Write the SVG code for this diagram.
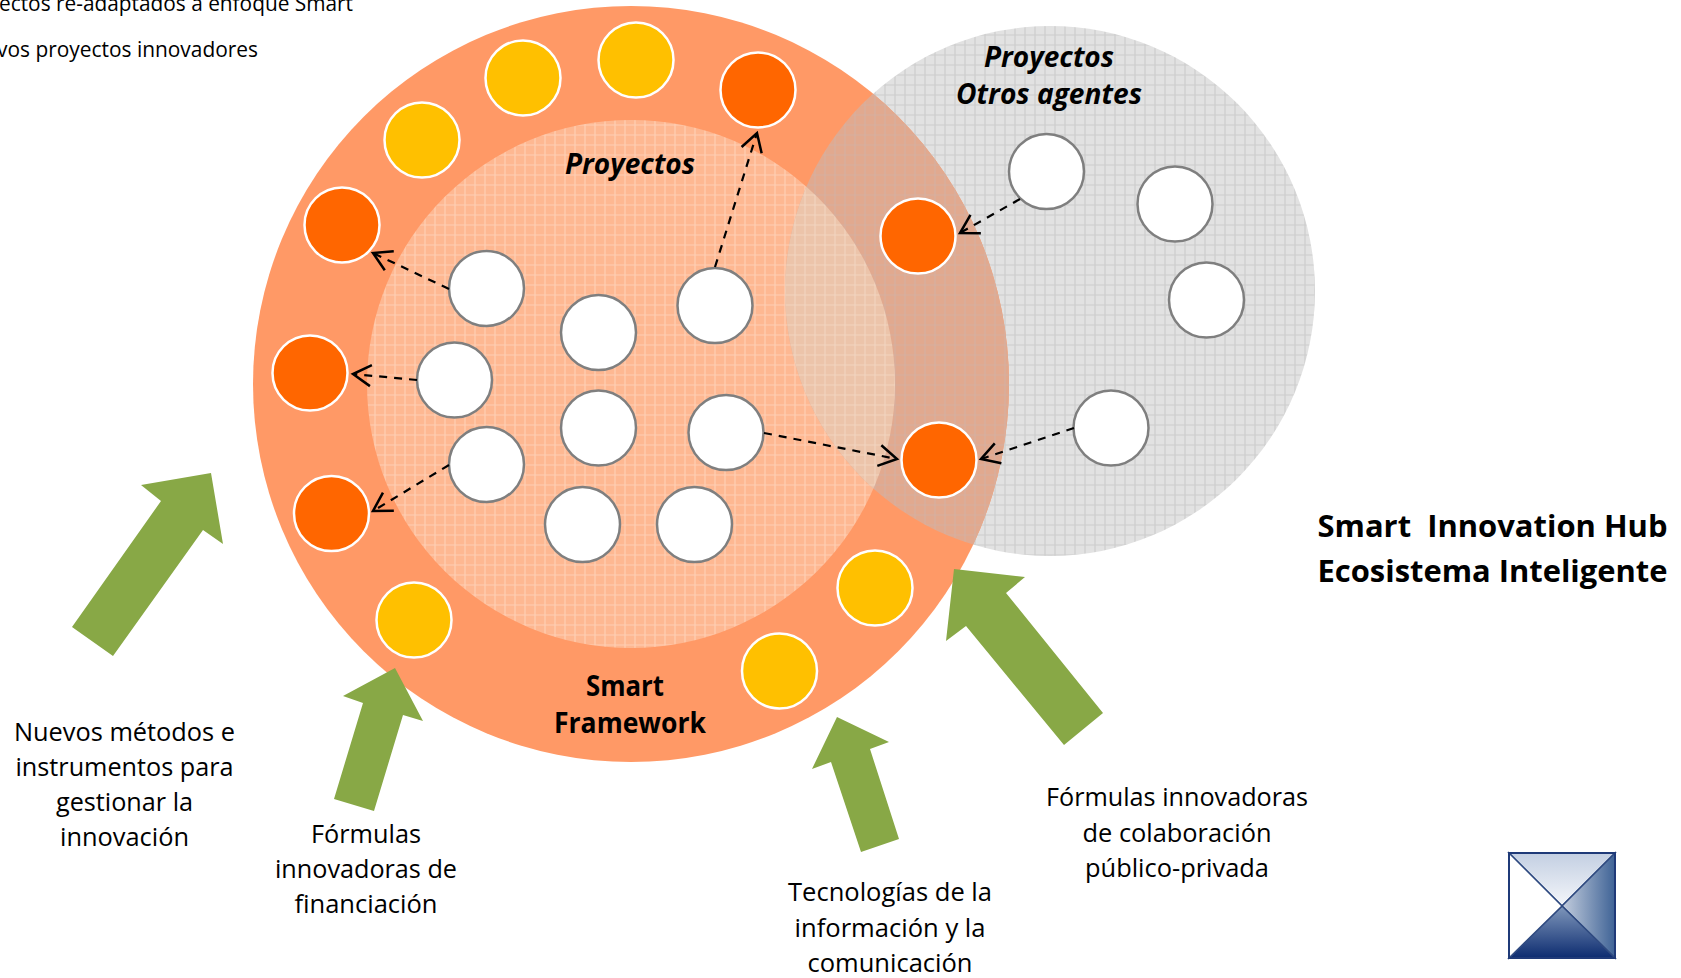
<svg xmlns="http://www.w3.org/2000/svg" width="1681" height="978" viewBox="0 0 1681 978">
<style>
text{font-family:"Open Sans","Noto Sans",sans-serif;fill:#000}
.l{font-size:25.500px}
.s{font-size:21px}
.m{text-anchor:middle}
.b{font-size:31px;font-weight:700}
.h{font-size:28px;font-weight:700}
.hi{font-size:29px;font-weight:700;font-style:italic}
.w{fill:#fff;stroke:#7f7f7f;stroke-width:2.500}
.o{fill:#ff6600;stroke:#fff;stroke-width:2.500}
.y{fill:#ffc000;stroke:#fff;stroke-width:2.500}
.ar{fill:#88a846}
.c{fill:none;stroke:#000;stroke-width:2.200;stroke-dasharray:8 7;marker-end:url(#head)}
</style>
<defs>
<marker id="head" markerUnits="userSpaceOnUse" markerWidth="28" markerHeight="28" refX="24" refY="14" orient="auto" viewBox="0 0 28 28" overflow="visible">
<path d="M6 3.500L24 14L6 24.500" fill="none" stroke="#000" stroke-width="2.500"/>
</marker>
<pattern id="pg" patternUnits="userSpaceOnUse" width="10" height="10"><rect width="10" height="10" fill="#e2e2e2"/><path d="M5 0V10M0 5H10" stroke="#cdcdcd" stroke-width="1.200"/></pattern>
<pattern id="pi" patternUnits="userSpaceOnUse" width="10" height="10"><rect width="10" height="10" fill="#feb892"/><path d="M5 0V10M0 5H10" stroke="#ffcfb4" stroke-width="1.200"/></pattern>
<pattern id="po" patternUnits="userSpaceOnUse" width="10" height="10"><rect width="10" height="10" fill="#e1a98f"/><path d="M5 0V10M0 5H10" stroke="#d6b0a0" stroke-width="1.200"/></pattern>
<pattern id="pio" patternUnits="userSpaceOnUse" width="10" height="10"><rect width="10" height="10" fill="#ecc4aa"/><path d="M5 0V10M0 5H10" stroke="#f2d4bf" stroke-width="1.200"/></pattern>
<clipPath id="cg"><circle cx="1050" cy="291" r="265"/></clipPath>
<linearGradient id="gt" x1="0" y1="0" x2="0" y2="1"><stop offset="0" stop-color="#c3cfe2"/><stop offset="1" stop-color="#f4f6fa"/></linearGradient>
<linearGradient id="gr" x1="0" y1="0" x2="1" y2="0"><stop offset="0" stop-color="#c4cede"/><stop offset="1" stop-color="#3f6396"/></linearGradient>
<linearGradient id="gb" x1="0" y1="0" x2="0" y2="1"><stop offset="0" stop-color="#7f97bb"/><stop offset="1" stop-color="#0d2c70"/></linearGradient>
</defs>
<rect width="1681" height="978" fill="#fff"/>
<g id="background">
<circle cx="1050" cy="291" r="265" fill="url(#pg)"/>
<circle cx="631" cy="384" r="378" fill="#ff9966"/>
<circle cx="631" cy="384" r="264" fill="url(#pi)"/>
<g clip-path="url(#cg)">
<circle cx="631" cy="384" r="378" fill="url(#po)"/>
<circle cx="631" cy="384" r="264" fill="url(#pio)"/>
</g>
</g>
<g id="arrows-green">
<polygon class="ar" points="72,627 113,656 203,530 223,544 211,473 141,485 161,501"/>
<polygon class="ar" points="334,799 374,811 403,715 423,721 395,668 343,696 363,703"/>
<polygon class="ar" points="899,839 861,852 831,762 812,769 837,717 889,742 870,749"/>
<polygon class="ar" points="1103,713 1064,745 966,626 946,641 954,569 1025,577 1006,593"/>
</g>
<g id="nodes">
<circle id="n1" class="w" cx="486.500" cy="288.500" r="37.500"/>
<circle id="n2" class="w" cx="454.500" cy="380" r="37.500"/>
<circle id="n3" class="w" cx="486.500" cy="464.500" r="37.500"/>
<circle id="n4" class="w" cx="598.500" cy="332.500" r="37.500"/>
<circle id="n5" class="w" cx="598.500" cy="428" r="37.500"/>
<circle id="n6" class="w" cx="582.500" cy="524.500" r="37.500"/>
<circle id="n7" class="w" cx="694.500" cy="524.500" r="37.500"/>
<circle id="n8" class="w" cx="715" cy="305.500" r="37.500"/>
<circle id="n9" class="w" cx="726" cy="432.500" r="37.500"/>
<circle id="n10" class="w" cx="1046.500" cy="171.500" r="37.500"/>
<circle id="n11" class="w" cx="1175" cy="204" r="37.500"/>
<circle id="n12" class="w" cx="1206.500" cy="300" r="37.500"/>
<circle id="n13" class="w" cx="1111" cy="428" r="37.500"/>
<circle id="o1" class="o" cx="758" cy="90" r="37.500"/>
<circle id="o2" class="o" cx="342" cy="225" r="37.500"/>
<circle id="o3" class="o" cx="310" cy="373" r="37.500"/>
<circle id="o4" class="o" cx="331.500" cy="513.500" r="37.500"/>
<circle id="o5" class="o" cx="918" cy="236" r="37.500"/>
<circle id="o6" class="o" cx="939" cy="460" r="37.500"/>
<circle id="y1" class="y" cx="523" cy="78" r="37.500"/>
<circle id="y2" class="y" cx="636" cy="60" r="37.500"/>
<circle id="y3" class="y" cx="422" cy="140" r="37.500"/>
<circle id="y4" class="y" cx="414" cy="620" r="37.500"/>
<circle id="y5" class="y" cx="779.500" cy="671" r="37.500"/>
<circle id="y6" class="y" cx="875" cy="588" r="37.500"/>
</g>
<g id="connectors">
<line class="c" x1="715" y1="267" x2="757" y2="133"/>
<line class="c" x1="449" y1="289" x2="373" y2="253"/>
<line class="c" x1="417" y1="380" x2="353" y2="374"/>
<line class="c" x1="449" y1="465" x2="373" y2="511"/>
<line class="c" x1="764" y1="433" x2="897" y2="459"/>
<line class="c" x1="1074" y1="428" x2="981" y2="459"/>
<line class="c" x1="1020" y1="199" x2="960" y2="233"/>
</g>
<g id="labels">
<text class="s" x="-1" y="11" textLength="354" lengthAdjust="spacingAndGlyphs">ectos re-adaptados a enfoque Smart</text>
<text class="s" x="-3" y="57" textLength="261" lengthAdjust="spacingAndGlyphs">vos proyectos innovadores</text>
<text class="hi m" x="630" y="174" textLength="130" lengthAdjust="spacingAndGlyphs">Proyectos</text>
<text class="hi m" x="1049" y="67" textLength="130" lengthAdjust="spacingAndGlyphs">Proyectos</text>
<text class="hi m" x="1049" y="104" textLength="186" lengthAdjust="spacingAndGlyphs">Otros agentes</text>
<text class="h m" x="625" y="696" textLength="78" lengthAdjust="spacingAndGlyphs">Smart</text>
<text class="h m" x="630" y="733" textLength="152" lengthAdjust="spacingAndGlyphs">Framework</text>
<text class="b" x="1317.500" y="537" textLength="350" lengthAdjust="spacingAndGlyphs" xml:space="preserve">Smart  Innovation Hub</text>
<text class="b" x="1317.500" y="582" textLength="350" lengthAdjust="spacingAndGlyphs">Ecosistema Inteligente</text>
<text class="l m" x="124.500" y="741" textLength="221" lengthAdjust="spacingAndGlyphs">Nuevos métodos e</text>
<text class="l m" x="124.500" y="776" textLength="218" lengthAdjust="spacingAndGlyphs">instrumentos para</text>
<text class="l m" x="124.500" y="811" textLength="137" lengthAdjust="spacingAndGlyphs">gestionar la</text>
<text class="l m" x="124.500" y="846" textLength="129" lengthAdjust="spacingAndGlyphs">innovación</text>
<text class="l m" x="366" y="843" textLength="110" lengthAdjust="spacingAndGlyphs">Fórmulas</text>
<text class="l m" x="366" y="878" textLength="182" lengthAdjust="spacingAndGlyphs">innovadoras de</text>
<text class="l m" x="366" y="913" textLength="143" lengthAdjust="spacingAndGlyphs">financiación</text>
<text class="l m" x="890" y="901" textLength="204" lengthAdjust="spacingAndGlyphs">Tecnologías de la</text>
<text class="l m" x="890" y="937" textLength="191" lengthAdjust="spacingAndGlyphs">información y la</text>
<text class="l m" x="890" y="972" textLength="165" lengthAdjust="spacingAndGlyphs">comunicación</text>
<text class="l m" x="1177" y="806" textLength="262" lengthAdjust="spacingAndGlyphs">Fórmulas innovadoras</text>
<text class="l m" x="1177" y="842" textLength="189" lengthAdjust="spacingAndGlyphs">de colaboración</text>
<text class="l m" x="1177" y="877" textLength="184" lengthAdjust="spacingAndGlyphs">público-privada</text>
</g>
<g id="logo" stroke="#2f4a80" stroke-width="1.500">
<polygon points="1509,853 1615,853 1562,906" fill="url(#gt)"/>
<polygon points="1615,853 1615,958 1562,906" fill="url(#gr)"/>
<polygon points="1509,958 1615,958 1562,906" fill="url(#gb)"/>
<polygon points="1509,853 1509,958 1562,906" fill="#fff"/>
<rect x="1509" y="853" width="106" height="105" fill="none" stroke="#1f3a78" stroke-width="2"/>
</g>
</svg>
